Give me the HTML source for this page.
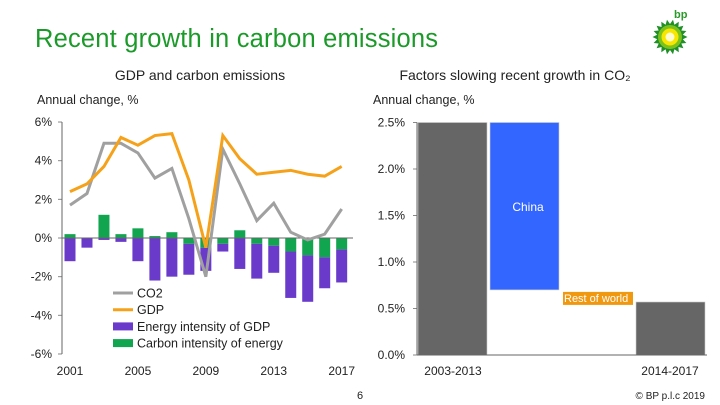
<!DOCTYPE html>
<html><head><meta charset="utf-8"><style>
body{margin:0;background:#fff;width:720px;height:405px;overflow:hidden}
svg{display:block;font-family:"Liberation Sans",sans-serif}
</style></head><body>
<svg id="s" width="720" height="405" viewBox="0 0 720 405">
<text x="35" y="47" font-size="25.5" fill="#1a9a28" textLength="403">Recent growth in carbon emissions</text>
<g>
<text x="674" y="18" font-size="11" font-weight="bold" fill="#2a9a2a">bp</text>
<polygon id="star" fill="#1f8f28" points=""/>
<circle cx="670" cy="37" r="12" fill="#7cc21d"/>
<circle cx="670" cy="37" r="8.5" fill="#f7e600"/>
<circle cx="670" cy="37" r="4.5" fill="#fffbd0"/>
</g>
<text x="200" y="80" font-size="14" text-anchor="middle" fill="#222">GDP and carbon emissions</text>
<text x="515" y="80" font-size="14" text-anchor="middle" fill="#222">Factors slowing recent growth in CO₂</text>
<text x="37" y="104" font-size="12.5" fill="#222">Annual change, %</text>
<text x="373" y="104" font-size="12.5" fill="#222">Annual change, %</text>
<g id="L"></g><g id="R"></g>
<text x="360" y="399" font-size="11" text-anchor="middle" fill="#222">6</text>
<text x="705" y="399" font-size="10" text-anchor="end" fill="#222">© BP p.l.c 2019</text>
</svg>
<script>
const years=[2001,2002,2003,2004,2005,2006,2007,2008,2009,2010,2011,2012,2013,2014,2015,2016,2017];
const co2=[1.7,2.3,4.9,4.9,4.4,3.1,3.6,1.0,-2.0,4.6,2.8,0.9,1.8,0.3,-0.1,0.2,1.5];
const gdp=[2.4,2.8,3.7,5.2,4.8,5.3,5.4,3.0,-0.5,5.3,4.1,3.3,3.4,3.5,3.3,3.2,3.7];
const energyIntensity=[-1.2,-0.5,-0.1,-0.2,-1.2,-2.2,-2.0,-1.6,-1.2,-0.4,-1.6,-1.8,-1.4,-2.4,-2.4,-1.6,-1.7];
const carbonIntensity=[0.2,0,1.2,0.2,0.5,0.1,0.3,-0.3,-0.5,-0.3,0.4,-0.3,-0.4,-0.7,-0.9,-1.0,-0.6];
const leftTicks=[6,4,2,0,-2,-4,-6];
const yearLabels=[2001,2005,2009,2013,2017];
const rightCats=["2003-2013","China","Rest of world","2014-2017"];
const rightStart=[0,2.5,0.7,0];
const rightEnd=[2.5,0.7,0.56,0.57];
const rightTicks=[2.5,2.0,1.5,1.0,0.5,0.0];
const NS="http://www.w3.org/2000/svg";
function mk(p,t,a,txt){const e=document.createElementNS(NS,t);for(const k in a)e.setAttribute(k,a[k]);if(txt!=null)e.textContent=txt;p.appendChild(e);return e;}
(function(){const pts=[];for(let i=0;i<36;i++){const r=i%2?13:17.5,a=i*Math.PI/18;pts.push((670+r*Math.cos(a)).toFixed(1)+','+(37+r*Math.sin(a)).toFixed(1));}document.getElementById('star').setAttribute('points',pts.join(' '));})();
const L=document.getElementById('L'),R=document.getElementById('R');
const yL=v=>238-v*19.33, xL=y=>70+(y-2001)*16.98;
let e;
leftTicks.forEach(t=>{e=mk(L,'text',{x:52,y:yL(t)+4,'font-size':12,'text-anchor':'end',fill:'#222'},t+'%');

mk(L,'line',{x1:58,x2:62,y1:yL(t),y2:yL(t),stroke:'#888'});});
yearLabels.forEach(y=>{e=mk(L,'text',{x:xL(y),y:375,'font-size':12,'text-anchor':'middle',fill:'#222'},y);
});
years.forEach((y,i)=>{const c=carbonIntensity[i],en=energyIntensity[i];
const cx=xL(y)-5.5;
e=mk(L,'rect',{x:cx,y:Math.min(yL(0),yL(c)),width:11,height:Math.abs(yL(c)-yL(0)),fill:'#12a550'});

const base=Math.min(c,0);
e=mk(L,'rect',{x:cx,y:yL(base),width:11,height:Math.abs(yL(base+en)-yL(base)),fill:'#6a3acb'});
});
mk(L,'line',{x1:62,x2:353,y1:yL(0),y2:yL(0),stroke:'#666'});
mk(L,'line',{x1:62,x2:62,y1:yL(6),y2:yL(-6),stroke:'#666'});
e=mk(L,'polyline',{points:years.map((y,i)=>xL(y)+','+yL(co2[i])).join(' '),fill:'none',stroke:'#a0a0a0','stroke-width':3});

e=mk(L,'polyline',{points:years.map((y,i)=>xL(y)+','+yL(gdp[i])).join(' '),fill:'none',stroke:'#f5a21a','stroke-width':3});

const leg=[["CO2","line","#a0a0a0"],["GDP","line","#f5a21a"],["Energy intensity of GDP","box","#6a3acb"],["Carbon intensity of energy","box","#12a550"]];
leg.forEach((l,i)=>{const y=293+i*16.7;
if(l[1]=="line")mk(L,'line',{x1:113,x2:133,y1:y,y2:y,stroke:l[2],'stroke-width':3});
else mk(L,'rect',{x:113,y:y-4,width:20,height:8,fill:l[2]});
e=mk(L,'text',{x:137,y:y+4.5,'font-size':12.5,fill:'#222'},l[0]);
});
const yR=v=>355-v*93;
rightTicks.forEach(t=>{e=mk(R,'text',{x:405,y:yR(t)+4,'font-size':12,'text-anchor':'end',fill:'#222'},t.toFixed(1)+'%');

mk(R,'line',{x1:413,x2:417,y1:yR(t),y2:yR(t),stroke:'#888'});});
const rx=[418,490,563,636],cols=['#666666','#3366ff',null,'#666666'];
rightCats.forEach((c,i)=>{const a=rightStart[i],b=rightEnd[i];
if(cols[i]){e=mk(R,'rect',{x:rx[i],y:yR(Math.max(a,b)),width:69,height:Math.abs(yR(a)-yR(b)),fill:cols[i],stroke:'#ccc','stroke-width':0.6});
}});
e=mk(R,'text',{x:528,y:yR(1.55),'font-size':12,'text-anchor':'middle',fill:'#fff'},"China");

mk(R,'rect',{x:563,y:yR(rightStart[2])+2,width:70,height:13,fill:'#f0980f'});
e=mk(R,'text',{x:564,y:yR(rightStart[2])+12,'font-size':11,fill:'#fff'},"Rest of world");

mk(R,'line',{x1:417,x2:707,y1:yR(0),y2:yR(0),stroke:'#666'});
mk(R,'line',{x1:417,x2:417,y1:yR(2.5),y2:yR(0),stroke:'#666'});
e=mk(R,'text',{x:453,y:375,'font-size':12,'text-anchor':'middle',fill:'#222'},rightCats[0]);

e=mk(R,'text',{x:670,y:375,'font-size':12,'text-anchor':'middle',fill:'#222'},rightCats[3]);

</script>
</body></html>
